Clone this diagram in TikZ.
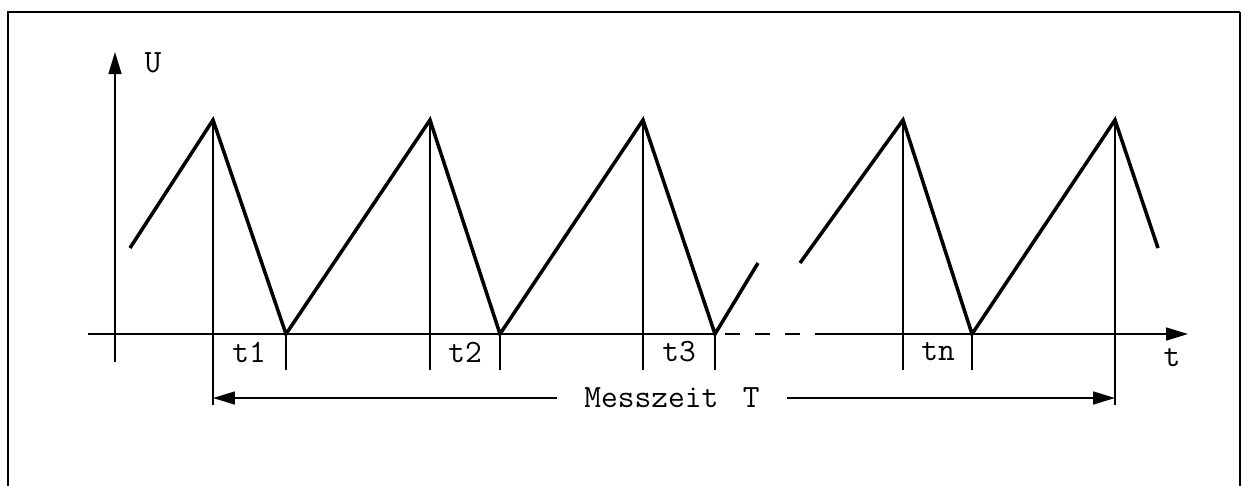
\documentclass[tikz,border=0pt]{standalone}
\usetikzlibrary{arrows.meta}

\begin{document}
\begin{tikzpicture}[x=0.02cm, y=-0.02cm,
    wave/.style={line width=2pt, line join=miter},
    thin/.style={line width=0.9pt},
    tip/.style={-{Triangle[length=0.44cm, width=0.26cm]}},
    lab/.style={font=\fontsize{18.5}{22}\selectfont\ttfamily, inner sep=0pt}]
  \useasboundingbox (0,0) rectangle (1244,485);
  % frame
  \draw[line width=1.3pt] (8,490) -- (8,12) -- (1240,12);
  \draw[line width=0.6pt] (1240,12) -- (1240,490);

  % axes
  \coordinate (o) at (115,334);
  \draw[thin, tip] (115,362) -- (115,52);
  \draw[thin] (88,334) -- (715,334);
  \draw[thin, dash pattern=on 0.3cm off 0.3cm, dash phase=0.4cm] (715,334) -- (823,334);
  \draw[thin, tip] (823,334) -- (1188,334);
  \node[lab] (u) at (153,63) {U};
  \node[lab] (t) at (1172,358) {t};

  % peaks and troughs
  \coordinate (s1) at (130,248);
  \coordinate (p1) at (213,120);
  \coordinate (v1) at (286,334);
  \coordinate (p2) at (430,120);
  \coordinate (v2) at (500,334);
  \coordinate (p3) at (643,120);
  \coordinate (v3) at (715,334);
  \coordinate (e1) at (758,263);
  \coordinate (s2) at (800,263);
  \coordinate (p4) at (903,120);
  \coordinate (vn) at (972,334);
  \coordinate (p5) at (1115,120);
  \coordinate (e2) at (1158,248);
  \draw[wave] (s1) -- (p1) -- (v1) -- (p2) -- (v2) -- (p3) -- (v3) -- (e1);
  \draw[wave] (s2) -- (p4) -- (vn) -- (p5) -- (e2);

  % marks
  \foreach \c in {p2,p3,p4} \draw[thin] (\c) -- (\c |- 0,370);
  \foreach \c in {v1,v2,v3,vn} \draw[thin] (\c) -- (\c |- 0,370);
  \draw[thin] (p1) -- (p1 |- 0,405);
  \draw[thin] (p5) -- (p5 |- 0,405);

  \node[lab] (t1) at (249,352) {t1};
  \node[lab] (t2) at (465,352) {t2};
  \node[lab] (t3) at (679,352) {t3};
  \node[lab] (tn) at (938,352) {tn};

  % measuring time
  \coordinate (a1) at (p1 |- 0,398);
  \coordinate (a2) at (p5 |- 0,398);
  \node[lab, inner xsep=0.54cm] (mz) at (672,398) {Messzeit\hspace{0.75em}T};
  \draw[thin, tip] (mz.west) -- (a1);
  \draw[thin, tip] (mz.east) -- (a2);
\end{tikzpicture}
\end{document}
